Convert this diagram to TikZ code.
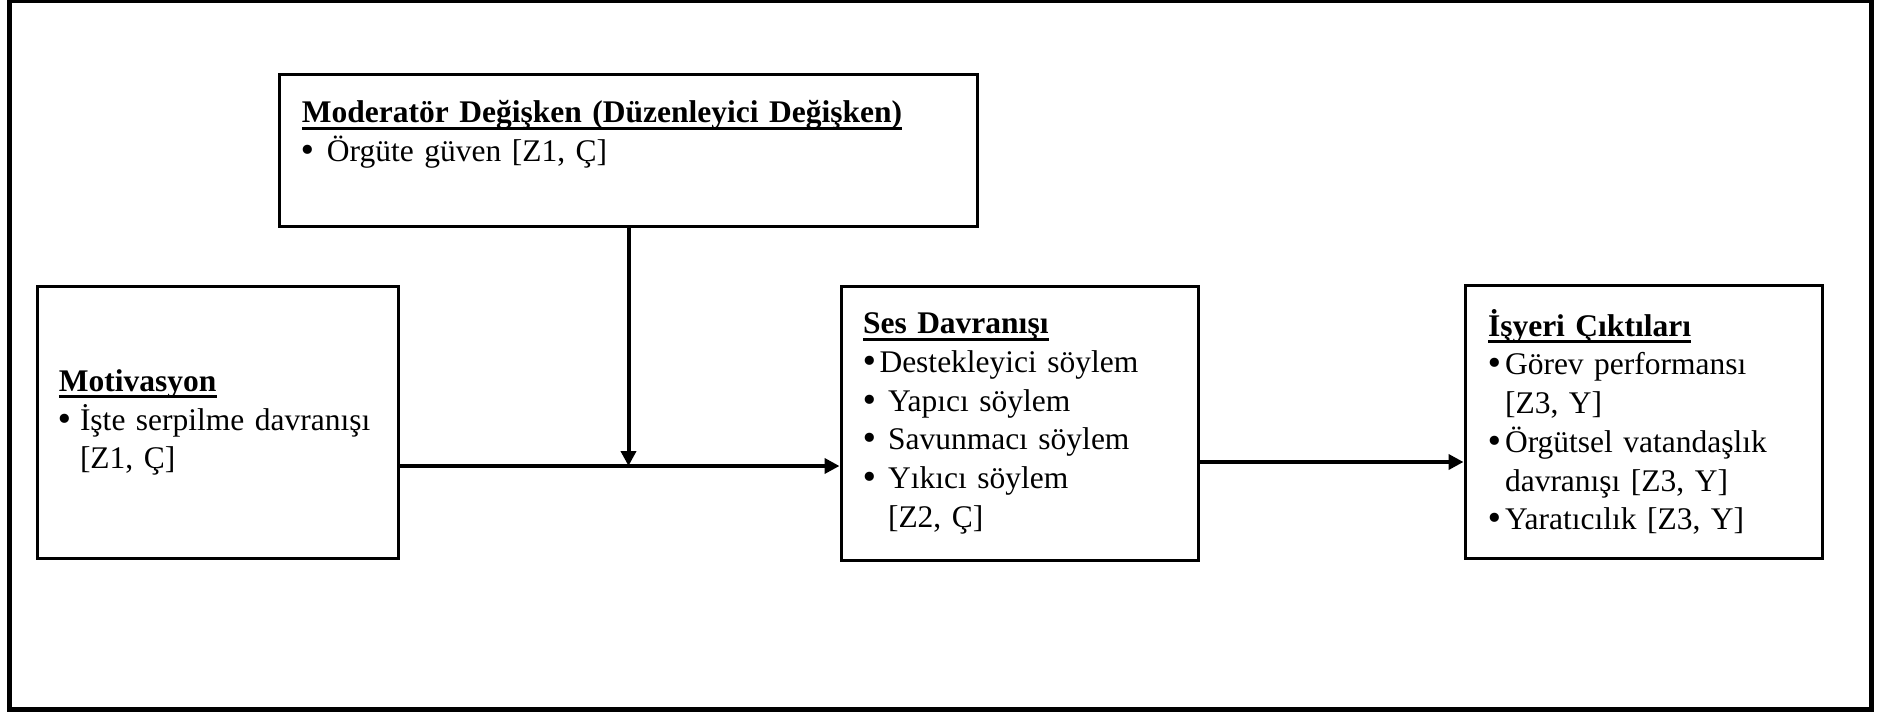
\documentclass[tikz,border=0pt]{standalone}
\usepackage{fontspec}
\setmainfont{Liberation Serif}
\newfontfamily\bulfont{DejaVu Sans}
\usetikzlibrary{arrows.meta}
\newcommand{\uln}[1]{\setbox0=\hbox{#1}\rlap{\rule[-2.8pt]{\wd0}{1.2pt}}\box0}
\newcommand{\bul}[1][10pt]{\makebox[#1][l]{\hspace*{-1.2pt}{\bulfont •}}}

\begin{document}
\begin{tikzpicture}[x=0.4pt, y=-0.4pt,
		box/.style={draw, line width=1.2pt, fill=white, align=left, font=\fontsize{12.6pt}{15.5pt}\selectfont, inner xsep=8.8pt},
		link/.style={line width=1.6pt, -{Triangle[length=6pt,width=6pt]}}]
	\useasboundingbox (0,0) rectangle (1892,712);
	\draw[line width=2pt] (9.5,0.5) rectangle (1871.5,709.5);
	\node[box, minimum width=278.8pt, minimum height=60.4pt, text width=261.2pt, inner ysep=10.2pt, text depth=31.2pt] (Mod) at (628.5,150.5) {\uln{\textbf{Moderatör Değişken (Düzenleyici Değişken)}}\\ \bul Örgüte güven [Z1, Ç]};
	\node[box, minimum width=144pt, minimum height=108.4pt, text width=127.2pt, inner xsep=8.4pt] (Mot) at (218,422.5) {\uln{\textbf{Motivasyon}}\\ \bul[8.4pt]İşte serpilme davranışı\\ \hspace*{8.4pt}[Z1, Ç]};
	\node[box, minimum width=142.8pt, minimum height=109.2pt, text width=125.2pt] (Ses) at (1019.5,423.5) {\uln{\textbf{Ses Davranışı}}\\ \bul[6.6pt]Destekleyici söylem\\ \bul Yapıcı söylem\\ \bul Savunmacı söylem\\ \bul Yıkıcı söylem\\ \hspace*{10pt}[Z2, Ç]};
	\node[box, minimum width=142.8pt, minimum height=108.8pt, text width=124.4pt, inner xsep=9.2pt] (Isy) at (1643.5,422) {\uln{\textbf{İşyeri Çıktıları}}\\ \bul[6.8pt]Görev performansı\\ \hspace*{6.8pt}[Z3, Y]\\ \bul[6.8pt]Örgütsel vatandaşlık\\ \hspace*{6.8pt}davranışı [Z3, Y]\\ \bul[6.8pt]Yaratıcılık [Z3, Y]};
	\coordinate (lvA) at (0,466);
	\coordinate (lvB) at (0,462);
	\draw[link] (Mot.east |- lvA) -- (Ses.west |- lvA);
	\draw[link] (Mod.south) -- (Mod.south |- lvA);
	\draw[link] (Ses.east |- lvB) -- (Isy.west |- lvB);
\end{tikzpicture}
\end{document}
